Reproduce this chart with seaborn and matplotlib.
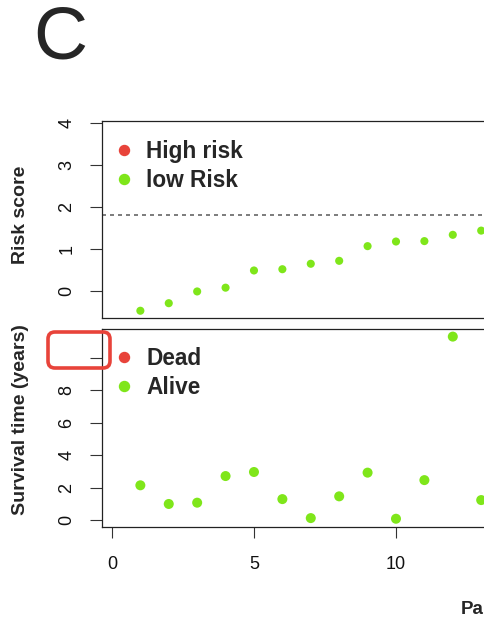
import matplotlib
matplotlib.use('Agg')
import matplotlib.pyplot as plt
import seaborn as sns
import pandas as pd
from matplotlib.lines import Line2D
from matplotlib.patches import FancyBboxPatch

# ---- data ----
patients = list(range(1, 14))
risk_score = [-0.47, -0.29, -0.01, 0.08, 0.49, 0.52, 0.65, 0.72, 1.07, 1.18, 1.19, 1.34, 1.44]
survival_years = [2.14, 0.99, 1.07, 2.71, 2.96, 1.29, 0.12, 1.46, 2.92, 0.08, 2.46, 11.3, 1.23]
risk_group = ['low Risk'] * 13
status = ['Alive'] * 13
cutoff = 1.82
x_ticks = [0, 5, 10]
x_tick_labels = ['0', '5', '10']
risk_ticks = [0, 1, 2, 3, 4]
surv_ticks = [0, 2, 4, 6, 8, 10]
surv_tick_labels = ['0', '2', '4', '6', '8', '']

RED = '#e8433a'
GREEN = '#7fe61a'

df = pd.DataFrame({'patient': patients, 'risk': risk_score, 'surv': survival_years,
                   'group': risk_group, 'status': status})

sns.set_style('white')
plt.rcParams['font.family'] = ['Liberation Sans', 'DejaVu Sans']

W, H = 484, 617
fig = plt.figure(figsize=(W / 100, H / 100), dpi=100)

left = 102.3 / W
width = 421.5 / W
ax1 = fig.add_axes([left, 1 - 318.3 / H, width, 197.6 / H])
ax2 = fig.add_axes([left, 1 - 526.7 / H, width, 197.4 / H])

pal_group = {'High risk': RED, 'low Risk': GREEN}
pal_status = {'Dead': RED, 'Alive': GREEN}

sns.scatterplot(data=df, x='patient', y='risk', hue='group', palette=pal_group,
                s=34, linewidth=0, ax=ax1, legend=False)
ax1.axhline(cutoff, ls=(0, (2.4, 2.4)), color='#666666', lw=1.2)
sns.scatterplot(data=df, x='patient', y='surv', hue='status', palette=pal_status,
                s=52, linewidth=0, ax=ax2, legend=False)

for ax in (ax1, ax2):
    ax.set_xlim(-0.34, 14.5)
    for sp in ax.spines.values():
        sp.set_linewidth(0.9)
        sp.set_color('#222222')
    ax.set_xlabel('')
    ax.set_ylabel('')
    ax.tick_params(axis='y', length=8.5, width=0.8, color='#333333', labelsize=13,
                   pad=11, labelrotation=90, left=True, labelcolor='#111111')

ax1.set_ylim(-0.65, 4.06)
ax1.set_yticks(risk_ticks)
ax1.set_xticks([])

ax2.set_ylim(-0.41, 11.75)
ax2.set_yticks(surv_ticks)
ax2.set_yticklabels(surv_tick_labels)
ax2.set_xticks(x_ticks)
ax2.set_xticklabels(x_tick_labels)
ax2.tick_params(axis='x', length=8, width=0.8, color='#333333', labelsize=13, pad=13,
                bottom=True, labelcolor='#111111')
for lab in ax1.get_yticklabels() + ax2.get_yticklabels():
    lab.set_va('center')

# legends
leg_kw = dict(loc='upper left', frameon=False, borderpad=0, handlelength=1.0,
              handletextpad=0.5, labelspacing=0.25,
              prop={'weight': 'bold', 'size': 16.3})
h1 = [Line2D([], [], marker='o', ls='', color=RED, markersize=7.2, label='High risk'),
      Line2D([], [], marker='o', ls='', color=GREEN, markersize=7.2, label='low Risk')]
ax1.legend(handles=h1, bbox_to_anchor=(-0.003, 0.96), **leg_kw)
h2 = [Line2D([], [], marker='o', ls='', color=RED, markersize=7.2, label='Dead'),
      Line2D([], [], marker='o', ls='', color=GREEN, markersize=7.2, label='Alive')]
ax2.legend(handles=h2, bbox_to_anchor=(-0.003, 0.967), **leg_kw)

# axis labels
fig.text(21 / W, 1 - 215 / H, 'Risk score', rotation=90, ha='center', va='center',
         fontsize=14, fontweight='bold')
fig.text(21 / W, 1 - 420 / H, 'Survival time (years)', rotation=90, ha='center',
         va='center', fontsize=14, fontweight='bold')
# x-axis title, truncated by the right edge of the reference crop
fig.text(461 / W, 1 - 614 / H, 'Pa', ha='left', va='baseline', fontsize=13.5,
         fontweight='bold')

# panel letter
fig.text(60 / W, 1 - 39 / H, 'C', ha='center', va='center', fontsize=54)

# red highlight box
rect = FancyBboxPatch((0.48, (H - 368) / 100), 0.62, 0.36,
                      boxstyle='round,pad=0,rounding_size=0.07',
                      transform=fig.dpi_scale_trans, fill=False, ec=RED, lw=2.6)
fig.patches.append(rect)

fig.savefig('out.png', dpi=100)
